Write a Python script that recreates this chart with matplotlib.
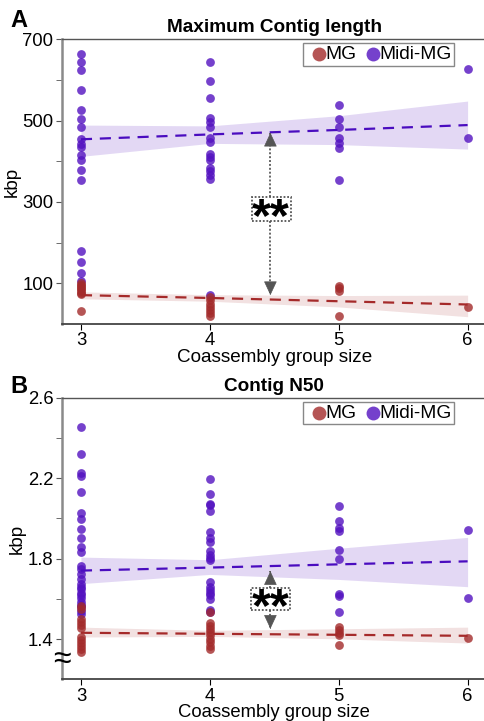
import matplotlib
matplotlib.use('Agg')
import matplotlib.pyplot as plt
from matplotlib.patches import Rectangle
import numpy as np

plt.rcParams['font.family'] = ['Liberation Sans', 'DejaVu Sans']

group_sizes = [3, 4, 5, 6]

# Panel A - maximum contig length (kbp), one list per group size
max_mg = {3: [101, 97, 93, 89, 85, 81, 77, 73, 33],
          4: [66, 58, 50, 42, 34, 26, 20],
          5: [93, 88, 80, 20],
          6: [41]}
max_midi = {3: [664, 644, 624, 574, 526, 503, 484, 454, 442, 434, 415, 403, 378, 354,
                180, 153, 126, 105],
            4: [644, 598, 555, 506, 497, 485, 458, 448, 419, 411, 403, 384, 376, 366, 356, 71],
            5: [538, 504, 485, 458, 444, 433, 354],
            6: [626, 456]}
# fitted trend and confidence band read at x = 3, 4, 5, 6
max_mg_fit = [71, 64, 56, 48]
max_mg_lo = [62, 56, 42, 18]
max_mg_hi = [79, 72, 70, 71]
max_midi_fit = [454, 466, 477, 489]
max_midi_lo = [412, 444, 441, 430]
max_midi_hi = [489, 487, 512, 548]

# Panel B - contig N50 (kbp)
n50_mg = {3: [1.566, 1.55, 1.50, 1.485, 1.47, 1.455, 1.41, 1.395, 1.38, 1.365, 1.35, 1.338],
          4: [1.533, 1.48, 1.465, 1.45, 1.435, 1.42, 1.40, 1.385, 1.365, 1.35],
          5: [1.463, 1.448, 1.432, 1.419, 1.37],
          6: [1.406]}
n50_midi = {3: [2.453, 2.322, 2.226, 2.212, 2.131, 2.029, 1.996, 1.947, 1.905, 1.856, 1.831,
                1.766, 1.751, 1.722, 1.697, 1.672, 1.66, 1.648, 1.632, 1.62, 1.607, 1.583,
                1.57, 1.558, 1.54, 1.525],
            4: [2.196, 2.124, 2.07, 2.065, 2.036, 1.934, 1.902, 1.885, 1.836, 1.82, 1.803,
                1.795, 1.686, 1.66, 1.645, 1.63, 1.62, 1.6, 1.547, 1.535],
            5: [2.063, 1.988, 1.955, 1.94, 1.841, 1.798, 1.627, 1.617, 1.537],
            6: [1.944, 1.604]}
n50_mg_fit = [1.432, 1.427, 1.422, 1.417]
n50_mg_lo = [1.411, 1.414, 1.402, 1.381]
n50_mg_hi = [1.46, 1.444, 1.452, 1.46]
n50_midi_fit = [1.741, 1.756, 1.772, 1.787]
n50_midi_lo = [1.676, 1.722, 1.697, 1.661]
n50_midi_hi = [1.808, 1.795, 1.852, 1.906]

mg_color = '#a32b2b'
midi_color = '#5312c0'


def draw_panel(ax, mg, midi, mg_fit, mg_lo, mg_hi, midi_fit, midi_lo, midi_hi):
    # confidence bands + dashed trend lines
    ax.fill_between(group_sizes, midi_lo, midi_hi, color=midi_color, alpha=0.16, lw=0, zorder=1)
    ax.fill_between(group_sizes, mg_lo, mg_hi, color=mg_color, alpha=0.14, lw=0, zorder=1)
    for series, col in [(midi, midi_color), (mg, mg_color)]:
        xs = np.concatenate([[g] * len(series[g]) for g in group_sizes])
        ys = np.concatenate([series[g] for g in group_sizes])
        ax.scatter(xs, ys, s=40, color=col, alpha=0.8, lw=0, zorder=2)
    ax.plot(group_sizes, midi_fit, color='#4a0cbf', lw=1.6, ls=(0, (5, 3.5)), zorder=3)
    ax.plot(group_sizes, mg_fit, color='#a52a2a', lw=1.6, ls=(0, (5, 3.5)), zorder=3)

    # legend handles
    ax.scatter([], [], s=100, color=mg_color, alpha=0.8, lw=0, label='MG')
    ax.scatter([], [], s=100, color=midi_color, alpha=0.8, lw=0, label='Midi-MG')
    leg = ax.legend(loc='upper right', bbox_to_anchor=(0.922, 0.985), ncol=2, fontsize=13.8,
                    handletextpad=-0.35, columnspacing=0.15, borderpad=0.12, borderaxespad=0,
                    fancybox=False, framealpha=1, handlelength=1.4)
    leg.get_frame().set_edgecolor('#888888')
    leg.get_frame().set_linewidth(1.0)

    ax.set_xlim(2.85, 6.15)
    ax.set_xticks(group_sizes)
    ax.set_ylabel('kbp', fontsize=13.6, labelpad=1)
    ax.spines['right'].set_visible(False)
    ax.spines['left'].set_color('#8a8a8a')
    ax.spines['left'].set_linewidth(1.8)
    ax.spines['bottom'].set_color('#444444')
    ax.spines['bottom'].set_linewidth(1.3)
    ax.spines['top'].set_color('#555555')
    ax.spines['top'].set_linewidth(1.0)
    ax.tick_params(axis='both', labelsize=13.3, length=4, pad=2)
    ax.tick_params(axis='y', which='both', color='#555555')
    ax.tick_params(axis='y', which='minor', length=4)


def star_marker(ax, x, box, y_top, y_bot):
    # box = (x0, x1, y0, y1) of the dotted frame around the stars
    x0, x1, y0, y1 = box
    ax.add_patch(Rectangle((x0, y0), x1 - x0, y1 - y0, fc='white', ec='#555555',
                           ls=(0, (1, 1)), lw=1.3, zorder=5))
    yc = (y0 + y1) / 2
    ax.annotate('**', xy=(x, yc), xytext=(0, -16), textcoords='offset points',
                ha='center', va='baseline', fontsize=35, fontweight='bold', zorder=6)
    ax.plot([x, x], [y1, y_top], color='#666666', ls=(0, (1, 1)), lw=1.4, zorder=4)
    ax.plot([x, x], [y0, y_bot], color='#666666', ls=(0, (1, 1)), lw=1.4, zorder=4)
    for y_end, y_from in ((y_top, y1), (y_bot, y0)):
        ax.annotate('', xy=(x, y_end), xytext=(x, y_end + (y_from - y_end) * 0.05), zorder=4,
                    arrowprops=dict(arrowstyle='-|>,head_width=0.35,head_length=0.75',
                                    mutation_scale=12, color='#555555', lw=0.5,
                                    shrinkA=0, shrinkB=0))


fig = plt.figure(figsize=(4.85, 7.21), dpi=100)
ax1 = fig.add_axes([0.127, 0.5506, 0.877, 0.395])
ax2 = fig.add_axes([0.127, 0.0576, 0.877, 0.3908])

draw_panel(ax1, max_mg, max_midi, max_mg_fit, max_mg_lo, max_mg_hi,
           max_midi_fit, max_midi_lo, max_midi_hi)
ax1.set_ylim(0, 700)
ax1.set_yticks([100, 300, 500, 700])
ax1.set_yticks([200, 400, 600], minor=True)
ax1.set_xlabel('Coassembly group size', fontsize=13.6, labelpad=0)
ax1.set_title('Maximum Contig length', fontsize=13.7, fontweight='bold', pad=5)
star_marker(ax1, 4.47, (4.33, 4.63, 253, 312), 470, 71)

draw_panel(ax2, n50_mg, n50_midi, n50_mg_fit, n50_mg_lo, n50_mg_hi,
           n50_midi_fit, n50_midi_lo, n50_midi_hi)
ax2.set_ylim(1.2, 2.6)
ax2.set_yticks([1.4, 1.8, 2.2, 2.6])
ax2.set_yticks([1.6, 2.0, 2.4], minor=True)
ax2.set_xlabel('Coassembly group size', fontsize=13.3, labelpad=-0.5)
ax2.set_title('Contig N50', fontsize=13.7, fontweight='bold', pad=5)
star_marker(ax2, 4.47, (4.32, 4.62, 1.545, 1.653), 1.738, 1.452)
# axis break mark
ax2.text(0.0, 0.07, '\u2248', transform=ax2.transAxes, ha='center', va='center',
         fontsize=23, color='black')

fig.text(0.022, 0.988, 'A', fontsize=17, fontweight='bold', va='top')
fig.text(0.022, 0.480, 'B', fontsize=17, fontweight='bold', va='top')

fig.savefig('out.png', dpi=100)
